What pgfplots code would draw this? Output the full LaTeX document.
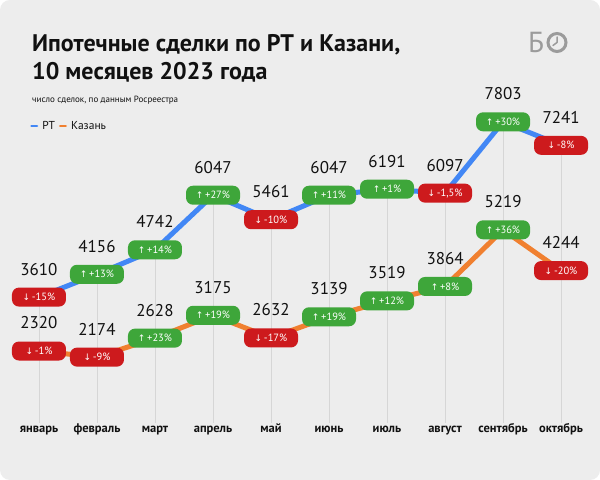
\documentclass[border=0pt]{standalone}
\usepackage{fontspec}
\setmainfont{PT Sans}
\newfontfamily\dejavu{DejaVu Sans}
\usepackage{pgfplots}
\pgfplotsset{compat=1.18}
\definecolor{bg}{HTML}{EDEDED}
\definecolor{rtblue}{HTML}{4287F5}
\definecolor{kzorange}{HTML}{F08030}
\definecolor{upgreen}{HTML}{3EA63A}
\definecolor{downred}{HTML}{CD1A1D}
\definecolor{gridc}{HTML}{D6D6D6}
\definecolor{logo}{HTML}{9B9B9B}
\definecolor{ink}{HTML}{111111}
\tikzset{badge/.style={rounded corners=7bp, text=white, minimum width=54bp, minimum height=19bp, inner sep=0pt, font=\fontsize{10.5bp}{11bp}\selectfont}}
\newcommand{\up}{{\dejavu\fontsize{9bp}{9bp}\selectfont ↑}\,}
\newcommand{\dn}{{\dejavu\fontsize{9bp}{9bp}\selectfont ↓}\,}
\begin{document}
\begin{tikzpicture}[x=1bp,y=1bp]
\fill[white] (0,0) rectangle (600,480);
\fill[bg, rounded corners=10bp] (0,0) rectangle (600,480);
\begin{axis}[at={(0,0)}, anchor=south west, width=600bp, height=480bp, scale only axis,
 xmin=-0.672, xmax=9.672, ymin=-766, ymax=10718,
 axis line style={draw=none}, major tick length=0pt, ytick=\empty,
 xtick={0,...,9}, xticklabels={январь,февраль,март,апрель,май,июнь,июль,август,сентябрь,октябрь},
 xticklabel style={anchor=base, yshift=47bp, inner sep=0pt, font=\bfseries\fontsize{12.5bp}{14bp}\selectfont, text=ink},
 clip=false, unbounded coords=jump,
 legend columns=2,
 legend style={at={(0.05,0.7375)}, anchor=west, draw=none, fill=none, font=\fontsize{11.5bp}{12bp}\selectfont, text=ink, column sep=2bp, inner sep=0pt},
 legend image code/.code={\draw[line width=2.6bp, line cap=round] (1bp,0bp) -- (6.5bp,0bp);}]
% gridlines
\addplot[gridc, line width=0.7bp, forget plot] coordinates {
(0,600) (0,3610) (0,nan)
(1,600) (1,4156) (1,nan)
(2,600) (2,4742) (2,nan)
(3,600) (3,6047) (3,nan)
(4,600) (4,5461) (4,nan)
(5,600) (5,6047) (5,nan)
(6,600) (6,6191) (6,nan)
(7,600) (7,6097) (7,nan)
(8,600) (8,7803) (8,nan)
(9,600) (9,7241)};
% lines
\addplot[rtblue, line width=5bp, line join=round, mark=none] table {
x y
0 3610
1 4156
2 4742
3 6047
4 5461
5 6047
6 6191
7 6097
8 7803
9 7241
};
\addlegendentry{РТ}
\addplot[kzorange, line width=5bp, line join=round, mark=none] table {
x y
0 2320
1 2174
2 2628
3 3175
4 2632
5 3139
6 3519
7 3864
8 5219
9 4244
};
\addlegendentry{Казань}
% up badges
\addplot[draw=none, mark=none, forget plot, point meta=explicit symbolic,
 nodes near coords={\up\pgfplotspointmeta\%},
 every node near coord/.append style={badge, fill=upgreen, anchor=center}] table[meta=p] {
x y p
1 4156 +13
2 4742 +14
3 6047 +27
5 6047 +11
6 6191 +1
8 7803 +30
2 2628 +23
3 3175 +19
5 3139 +19
6 3519 +12
7 3864 +8
8 5219 +36
};
% down badges
\addplot[draw=none, mark=none, forget plot, point meta=explicit symbolic,
 nodes near coords={\dn\pgfplotspointmeta\%},
 every node near coord/.append style={badge, fill=downred, anchor=center}] table[meta=p] {
x y p
0 3610 -15
4 5461 -10
7 6097 -1,5
9 7241 -8
0 2320 -1
1 2174 -9
4 2632 -17
9 4244 -20
};
% value labels
\addplot[draw=none, mark=none, forget plot, point meta=explicit symbolic, nodes near coords,
 every node near coord/.append style={anchor=center, yshift=28bp, font=\fontsize{17bp}{17bp}\selectfont, text=ink}] table[meta=y] {
x y
0 3610
1 4156
2 4742
3 6047
4 5461
5 6047
6 6191
7 6097
8 7803
9 7241
0 2320
1 2174
2 2628
3 3175
4 2632
5 3139
6 3519
7 3864
8 5219
9 4244
};
\end{axis}
\node[anchor=base west, inner sep=0pt, text=ink, font=\bfseries\fontsize{24bp}{29bp}\selectfont] at (32,428) {Ипотечные сделки по РТ и Казани,};
\node[anchor=base west, inner sep=0pt, text=ink, font=\bfseries\fontsize{24bp}{29bp}\selectfont] at (32,400) {10 месяцев 2023 года};
\node[anchor=base west, inner sep=0pt, text=ink, font=\fontsize{9bp}{10bp}\selectfont] at (32,377) {число сделок, по данным Росреестра};
\node[anchor=base west, inner sep=0pt, text=logo, font=\fontsize{29bp}{29bp}\selectfont] at (528,427) {Б};
\draw[logo, line width=3bp] (557,437.5) circle (9bp);
\draw[logo, line width=1.5bp, line cap=round, line join=round] (557,443) -- (557,437.5) -- (553,434.5);
\pgfresetboundingbox
\path (0,0) rectangle (600,480);
\end{tikzpicture}
\end{document}
